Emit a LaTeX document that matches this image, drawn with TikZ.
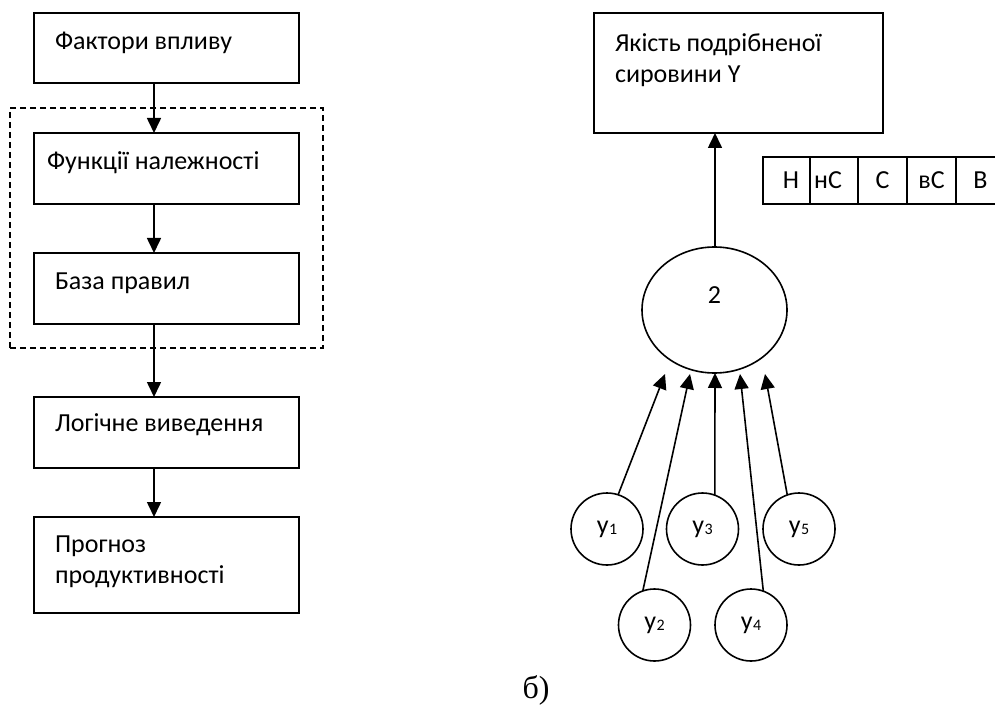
\documentclass[tikz,border=0pt]{standalone}
\usepackage{fontspec}
\setmainfont{Carlito}
\newfontfamily\timesf{Liberation Serif}
\usetikzlibrary{arrows.meta,shapes.geometric}
\newcommand{\ysub}[1]{y\kern0.5pt{\fontsize{16}{16}\selectfont\raisebox{-1pt}{#1}}}
\begin{document}
\begin{tikzpicture}[x=1pt,y=-1pt,
  every node/.style={inner sep=0pt, outer sep=0pt},
  box/.style={draw, line width=1.6pt, rectangle},
  txt/.style={anchor=west, font=\fontsize{26}{31}\selectfont, align=left},
  grp/.style={draw, line width=1.6pt, dash pattern=on 6pt off 4pt, rectangle},
  circ/.style={draw, line width=1.6pt, circle, minimum size=72pt, font=\fontsize{26}{28}\selectfont},
  cell/.style={draw, line width=1.6pt, rectangle, minimum height=47pt, font=\fontsize{26}{28}\selectfont},
  arr/.style={line width=1.6pt, -{Triangle[width=14pt,length=15pt]}}
]
\useasboundingbox (0,0) rectangle (995,708);
% left column
\node[box, minimum width=265pt, minimum height=70pt] (f1) at (166.5,48) {};
\node[box, minimum width=265pt, minimum height=71pt] (f2) at (166.5,168.5) {};
\node[box, minimum width=265pt, minimum height=71pt] (f3) at (166.5,288.5) {};
\node[box, minimum width=265pt, minimum height=71pt] (f4) at (166.5,432.5) {};
\node[box, minimum width=265pt, minimum height=96pt] (f5) at (166.5,565) {};
\node[grp, minimum width=313pt, minimum height=240pt] (g) at (166.5,228) {};
\node[txt] (t1) at (55,43) {Фактори впливу};
\node[txt] (t2) at (47,163) {Функції належності};
\node[txt] (t3) at (55,283) {База правил};
\node[txt] (t4) at (55,425) {Логічне виведення};
\node[txt] (t5) at (55,562) {Прогноз\\продуктивності};
\coordinate (ax) at (154,0);
\draw[arr] (f1.south -| ax) -- (f2.north -| ax);
\draw[arr] (f2.south -| ax) -- (f3.north -| ax);
\draw[arr] (f3.south -| ax) -- (f4.north -| ax);
\draw[arr] (f4.south -| ax) -- (f5.north -| ax);
% right part
\node[box, minimum width=289pt, minimum height=120pt] (q) at (738.5,73) {};
\node[txt] (qt) at (615,60) {Якість подрібненої\\сировини Y};
\node[draw, line width=1.6pt, ellipse, minimum width=145pt, minimum height=126pt] (e) at (714.5,310) {};
\node[font=\fontsize{26}{28}\selectfont] (two) at (714.5,295) {2};
\coordinate (bx) at (715,0);
\draw[arr] (e.north -| bx) -- (q.south -| bx);
% scale table
\node[cell, minimum width=47pt] (c1) at (786.5,180.5) {\kern9pt Н};
\node[cell, minimum width=48pt] (c2) at (834,180.5) {\kern-12pt нС};
\node[cell, minimum width=49pt] (c3) at (882.5,180.5) {С};
\node[cell, minimum width=49pt] (c4) at (931.5,180.5) {вС};
\node[cell, minimum width=49pt] (c5) at (980.5,180.5) {В};
% inputs
\node[circ] (y1) at (607,529) {\ysub{1}};
\node[circ] (y2) at (654.5,625) {\ysub{2}};
\node[circ] (y3) at (702.5,529) {\ysub{3}};
\node[circ] (y4) at (751,625) {\ysub{4}};
\node[circ] (y5) at (799,529) {\ysub{5}};
\coordinate (p1) at (665,374);
\coordinate (p2) at (690,374);
\coordinate (p3) at (715,373);
\coordinate (p4) at (740,374);
\coordinate (p5) at (765,374);
\draw[arr] (y1.72) -- (p1);
\draw[arr] (y2.109) -- (p2);
\draw[arr] (y3.70) -- (p3);
\draw[arr] (y4.70.5) -- (p4);
\draw[arr] (y5.109.5) -- (p5);
\node[font=\timesf\fontsize{32}{34}\selectfont] (lab) at (536,690) {б)};
\end{tikzpicture}
\end{document}
